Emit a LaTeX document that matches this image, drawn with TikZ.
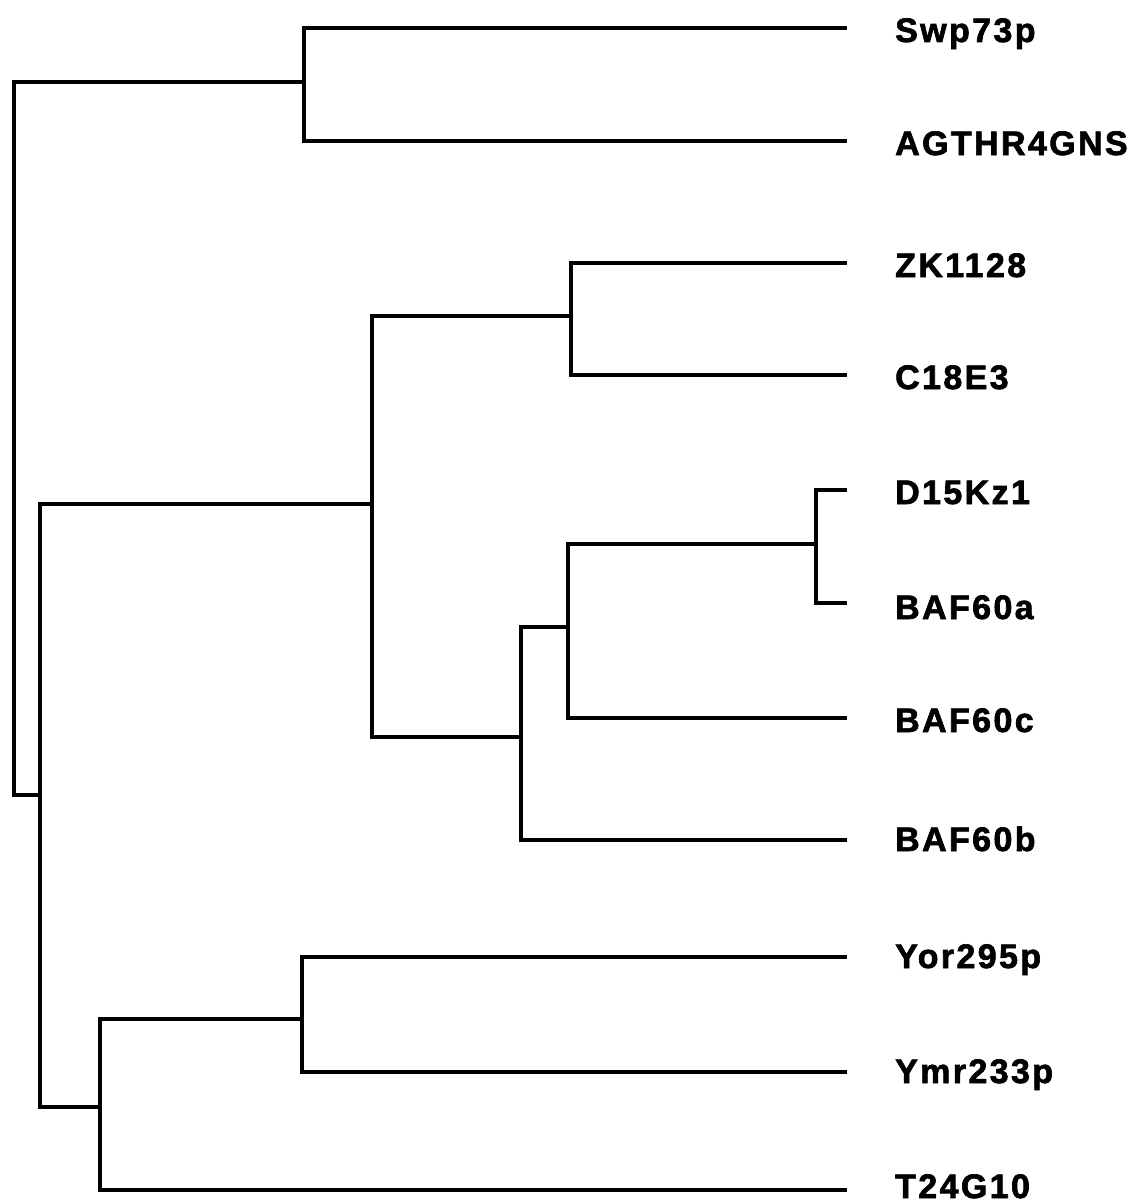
\documentclass[tikz,border=0pt]{standalone}
\usepackage{fontspec}
\newfontfamily\leaffont{Liberation Sans}[LetterSpace=7, BoldFeatures={FakeBold=2}]
\tikzset{
  branch/.style={line width=3.8pt, line join=miter, line cap=rect},
  leaf/.style={anchor=base west, inner sep=0pt, font=\leaffont\bfseries\fontsize{34}{34}\selectfont}
}
\begin{document}
\begin{tikzpicture}[x=1pt, y=-1pt]
  \useasboundingbox (0,0) rectangle (1137,1204);

  % leaf tips (end of terminal branches)
  \coordinate (tSwp)  at (845,28);
  \coordinate (tAGT)  at (845,141);
  \coordinate (tZK)   at (845,263);
  \coordinate (tC18)  at (845,375);
  \coordinate (tD15)  at (845,490);
  \coordinate (tB60a) at (845,603);
  \coordinate (tB60c) at (845,718);
  \coordinate (tB60b) at (845,840);
  \coordinate (tYor)  at (845,957);
  \coordinate (tYmr)  at (845,1072);
  \coordinate (tT24)  at (845,1190);

  % leaf labels
  \node[leaf] (Swp)  at (895,42)   {Swp73p};
  \node[leaf] (AGT)  at (895,155)  {AGTHR4GNS};
  \node[leaf] (ZK)   at (895,277)  {ZK1128};
  \node[leaf] (C18)  at (895,389)  {C18E3};
  \node[leaf] (D15)  at (895,504)  {D15Kz1};
  \node[leaf] (B60a) at (895,619)  {BAF60a};
  \node[leaf] (B60c) at (895,732)  {BAF60c};
  \node[leaf] (B60b) at (895,851)  {BAF60b};
  \node[leaf] (Yor)  at (895,968)  {Yor295p};
  \node[leaf] (Ymr)  at (895,1083) {Ymr233p};
  \node[leaf] (T24)  at (895,1198) {T24G10};

  % internal nodes: (x of the split, y where it joins its parent)
  \coordinate (root) at (14,82);
  \coordinate (nA) at (304,82);
  \coordinate (nB) at (40,795);
  \coordinate (nC) at (372,504);
  \coordinate (nD) at (571,316);
  \coordinate (nE) at (521,737);
  \coordinate (nF) at (568,627);
  \coordinate (nG) at (816,544);
  \coordinate (nK) at (100,1107);
  \coordinate (nL) at (302,1019);

  % branches
  \draw[branch] (root) |- (nA);
  \draw[branch] (root) |- (nB);
  \draw[branch] (nA) |- (tSwp);
  \draw[branch] (nA) |- (tAGT);
  \draw[branch] (nB) |- (nC);
  \draw[branch] (nB) |- (nK);
  \draw[branch] (nC) |- (nD);
  \draw[branch] (nC) |- (nE);
  \draw[branch] (nD) |- (tZK);
  \draw[branch] (nD) |- (tC18);
  \draw[branch] (nE) |- (nF);
  \draw[branch] (nE) |- (tB60b);
  \draw[branch] (nF) |- (nG);
  \draw[branch] (nF) |- (tB60c);
  \draw[branch] (nG) |- (tD15);
  \draw[branch] (nG) |- (tB60a);
  \draw[branch] (nK) |- (nL);
  \draw[branch] (nK) |- (tT24);
  \draw[branch] (nL) |- (tYor);
  \draw[branch] (nL) |- (tYmr);
\end{tikzpicture}
\end{document}
